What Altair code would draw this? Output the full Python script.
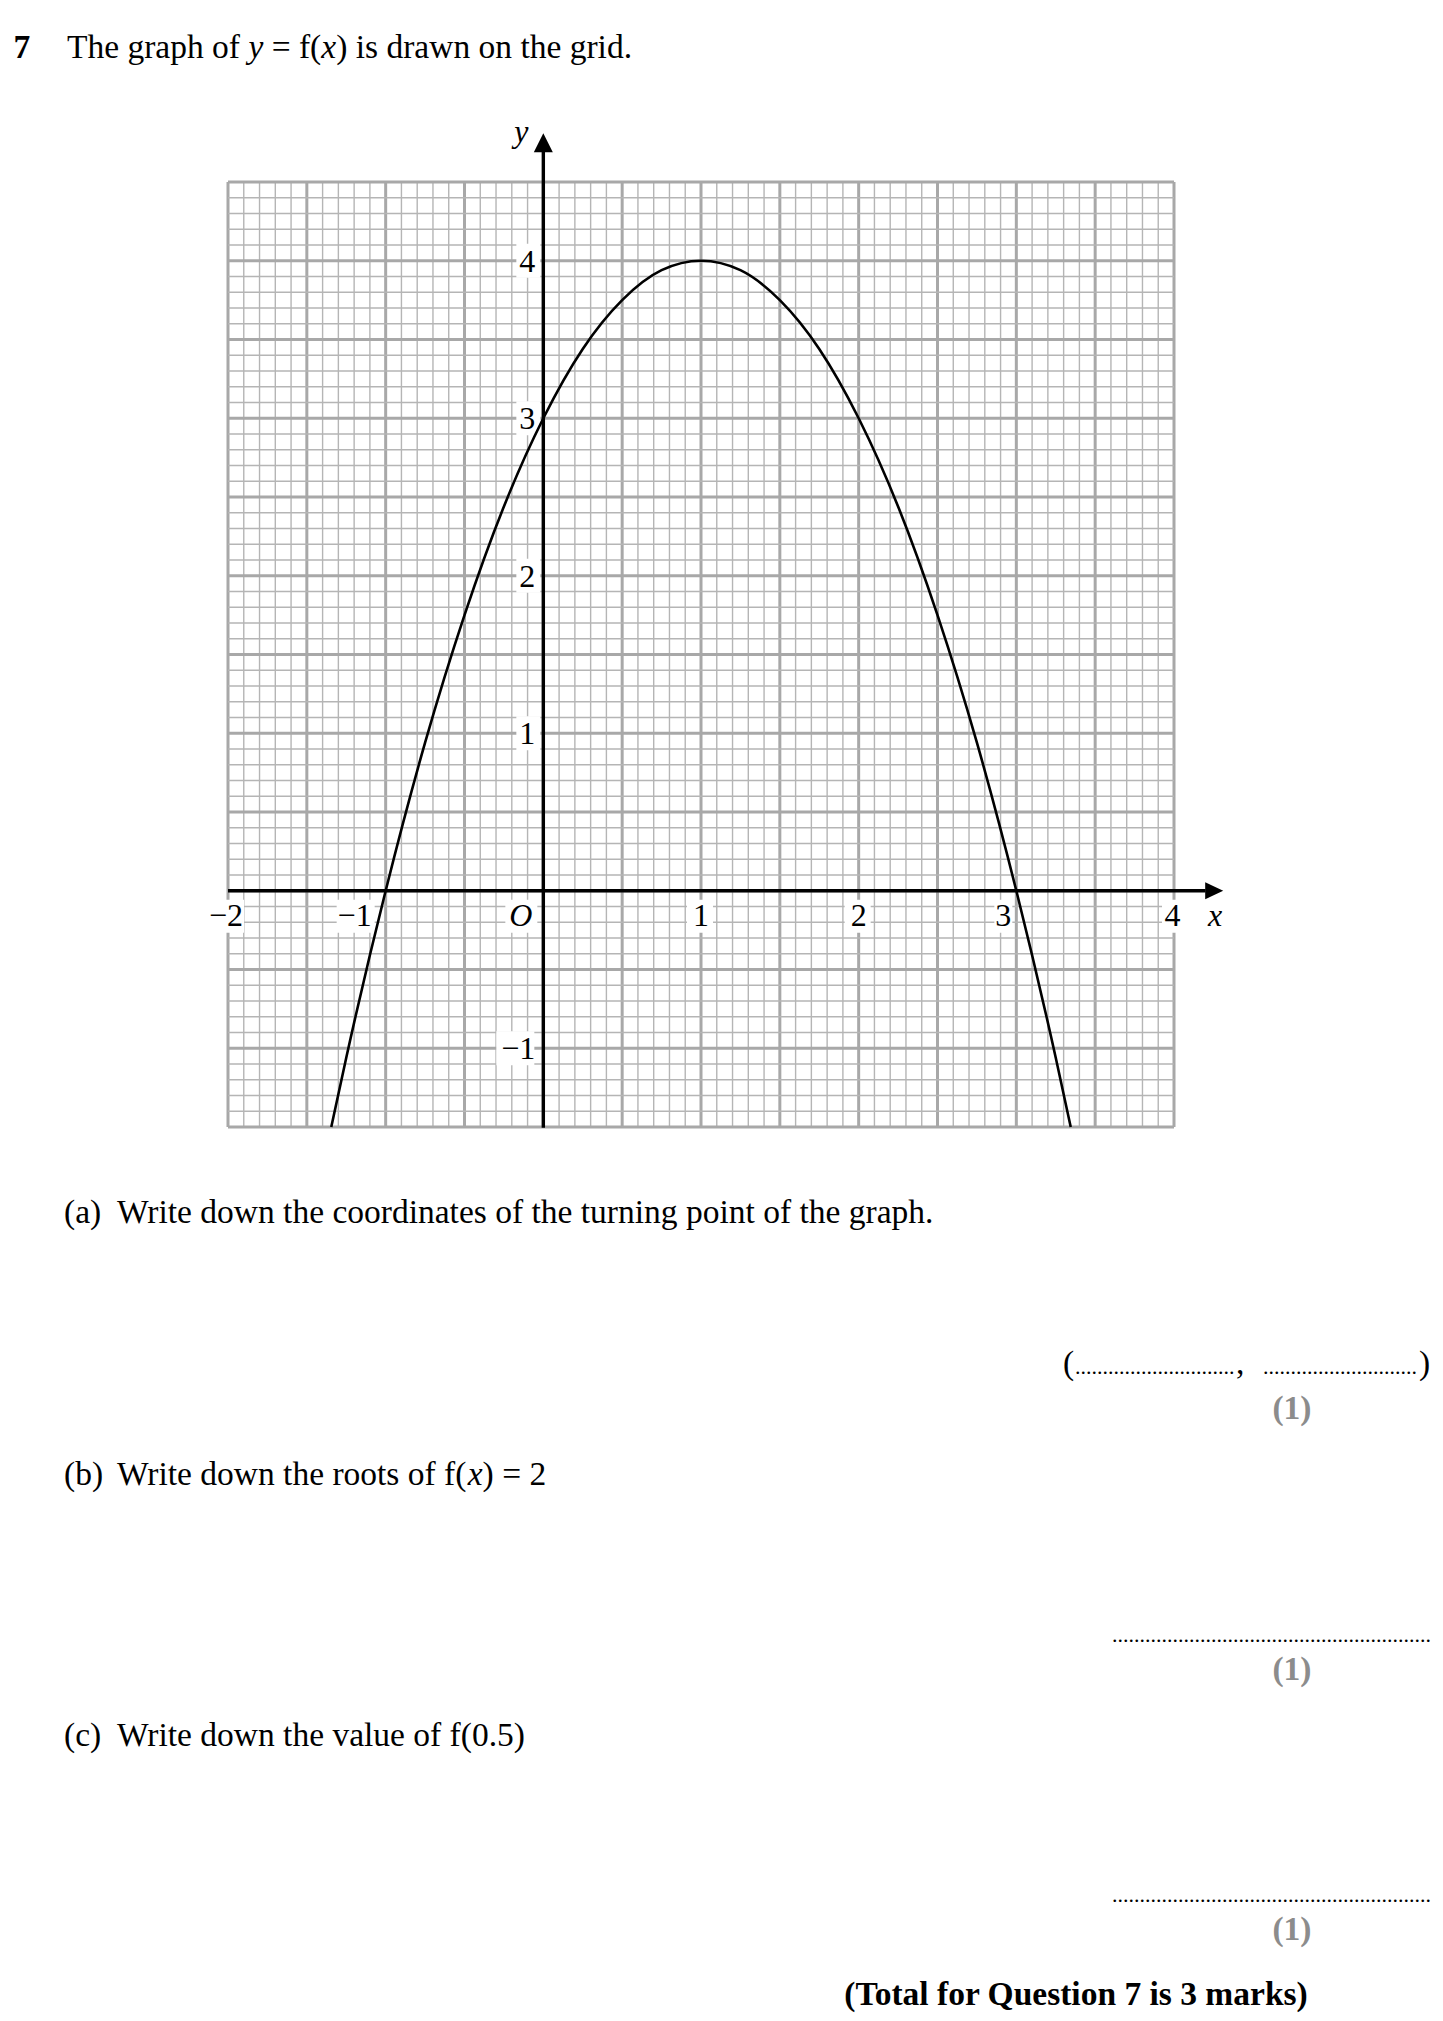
import altair as alt
import pandas as pd
import numpy as np

# ---------------- data ----------------
curve_x = [-1.345, -1.25, -1.0, -0.75, -0.5, -0.25, 0.0, 0.25, 0.5, 0.75, 1.0,
           1.25, 1.5, 1.75, 2.0, 2.25, 2.5, 2.75, 3.0, 3.25, 3.345]
curve_y = [-1.5, -1.06, 0.0, 0.94, 1.75, 2.44, 3.0, 3.44, 3.75, 3.94, 4.0,
           3.94, 3.75, 3.44, 3.0, 2.44, 1.75, 0.94, 0.0, -1.06, -1.5]

x_ticks = [-2, -1, 0, 1, 2, 3, 4]
x_tick_labels = ["−2", "−1", "O", "1", "2", "3", "4"]
y_ticks = [-1, 1, 2, 3, 4]
y_tick_labels = ["−1", "1", "2", "3", "4"]

X_MIN, X_MAX = -2, 4
Y_MIN, Y_MAX = -1.5, 4.5
FINE_STEP = 0.1
MAJOR_STEP = 0.5

# ---------------- layout (pixels) ----------------
W, H = 946, 945
UX = W / (X_MAX - X_MIN)
UY = H / (Y_MAX - Y_MIN)
OX, OY = 228, 182          # page position of plot origin
FONT = "Liberation Serif"
FS = 33.5
LFS = 32

# label alignment / offsets (x labels), and white box extents (px)
x_lab_align = ["center", "right", "right", "center", "center", "right", "center"]
x_lab_dx = [-2, -14, -11, 0, 0, -5, -1.5]
x_box = [(-21, 16), (-49, -11), (-38, -6), (-14, 12), (-14, 12), (-22, -4), (-12, 9)]
y_box = [(-47, -9), (-27, -3), (-27, -3), (-27, -3), (-27, -3)]

xs = alt.Scale(domain=[X_MIN, X_MAX], nice=False, zero=False)
ys = alt.Scale(domain=[Y_MIN, Y_MAX], nice=False, zero=False)


def X(f):
    return alt.X(f, type="quantitative", scale=xs, axis=None)


def Y(f):
    return alt.Y(f, type="quantitative", scale=ys, axis=None)


def X2(f):
    return alt.X2(f)


def Y2(f):
    return alt.Y2(f)


layers = []

# ---------------- grid ----------------
fine_x = np.round(np.arange(X_MIN, X_MAX + 1e-9, FINE_STEP), 3)
fine_y = np.round(np.arange(Y_MIN, Y_MAX + 1e-9, FINE_STEP), 3)
major_x = np.round(np.arange(X_MIN, X_MAX + 1e-9, MAJOR_STEP), 3)
major_y = np.round(np.arange(Y_MIN, Y_MAX + 1e-9, MAJOR_STEP), 3)

for vals, width, col in [(fine_x, 1.4, "#b5b5b5"), (major_x, 3, "#a8a8a8")]:
    df = pd.DataFrame({"x": vals, "y1": Y_MIN, "y2": Y_MAX})
    layers.append(alt.Chart(df).mark_rule(color=col, strokeWidth=width).encode(
        x=X("x"), y=Y("y1"), y2=Y2("y2")))
for vals, width, col in [(fine_y, 1.4, "#b5b5b5"), (major_y, 3, "#a8a8a8")]:
    df = pd.DataFrame({"y": vals, "x1": X_MIN, "x2": X_MAX})
    layers.append(alt.Chart(df).mark_rule(color=col, strokeWidth=width).encode(
        y=Y("y"), x=X("x1"), x2=X2("x2")))

# ---------------- white boxes behind labels ----------------
bx = pd.DataFrame({
    "x1": [t + b[0] / UX for t, b in zip(x_ticks, x_box)],
    "x2": [t + b[1] / UX for t, b in zip(x_ticks, x_box)],
    "y1": [-9 / UY] * len(x_ticks),
    "y2": [-42 / UY] * len(x_ticks),
})
by = pd.DataFrame({
    "x1": [b[0] / UX for b in y_box],
    "x2": [b[1] / UX for b in y_box],
    "y1": [t - 17 / UY for t in y_ticks],
    "y2": [t + 17 / UY for t in y_ticks],
})
for df in (bx, by):
    layers.append(alt.Chart(df).mark_rect(color="white").encode(
        x=X("x1"), x2=X2("x2"), y=Y("y1"), y2=Y2("y2")))

# ---------------- axes with arrows ----------------
ax = pd.DataFrame({"x1": [X_MIN], "x2": [4.2], "y": [0]})
layers.append(alt.Chart(ax).mark_rule(color="black", strokeWidth=3.4).encode(
    x=X("x1"), x2=X2("x2"), y=Y("y")))
ay = pd.DataFrame({"y1": [Y_MIN - 0.005], "y2": [4.7], "x": [0]})
layers.append(alt.Chart(ay).mark_rule(color="black", strokeWidth=3.4).encode(
    y=Y("y1"), y2=Y2("y2"), x=X("x")))

arr_x = pd.DataFrame({"x": [4.255], "y": [0]})
layers.append(alt.Chart(arr_x).mark_point(
    shape="M -1 -0.95 L 1 0 L -1 0.95 Z", size=324, filled=True, color="black",
    opacity=1, strokeWidth=0).encode(x=X("x"), y=Y("y")))
arr_y = pd.DataFrame({"x": [0], "y": [4.75]})
layers.append(alt.Chart(arr_y).mark_point(
    shape="M -1 1 L 0 -1 L 1 1 Z", size=361, filled=True, color="black",
    opacity=1, strokeWidth=0).encode(x=X("x"), y=Y("y")))

# ---------------- curve ----------------
cdf = pd.DataFrame({"x": curve_x, "y": curve_y})
layers.append(alt.Chart(cdf).mark_line(
    color="black", strokeWidth=2.6, interpolate="monotone").encode(
    x=X("x"), y=Y("y")))

# ---------------- tick labels ----------------
for t, lab, al, dx in zip(x_ticks, x_tick_labels, x_lab_align, x_lab_dx):
    df = pd.DataFrame({"x": [t], "y": [0], "t": [lab]})
    layers.append(alt.Chart(df).mark_text(
        align=al, baseline="alphabetic", dx=dx, dy=35, font=FONT, fontSize=LFS,
        fontStyle="italic" if lab == "O" else "normal", color="black").encode(
        x=X("x"), y=Y("y"), text="t:N"))
for t, lab in zip(y_ticks, y_tick_labels):
    df = pd.DataFrame({"x": [0], "y": [t], "t": [lab]})
    layers.append(alt.Chart(df).mark_text(
        align="right", baseline="alphabetic", dx=-8, dy=11, font=FONT, fontSize=LFS,
        color="black").encode(x=X("x"), y=Y("y"), text="t:N"))

# axis names
layers.append(alt.Chart(pd.DataFrame({"x": [4.26], "y": [0], "t": ["x"]})).mark_text(
    align="center", baseline="alphabetic", dy=35, font=FONT, fontSize=LFS,
    fontStyle="italic", color="black").encode(x=X("x"), y=Y("y"), text="t:N"))
layers.append(alt.Chart(pd.DataFrame({"x": [0], "y": [4.754], "t": ["y"]})).mark_text(
    align="right", baseline="alphabetic", dx=-15, font=FONT, fontSize=LFS,
    fontStyle="italic", color="black").encode(x=X("x"), y=Y("y"), text="t:N"))


# ---------------- page text ----------------
def txt(px, py, s, size=FS, weight="normal", style="normal", color="black", align="left"):
    return alt.Chart(pd.DataFrame({"t": [s]})).mark_text(
        align=align, baseline="alphabetic", font=FONT, fontSize=size,
        fontWeight=weight, fontStyle=style, color=color).encode(
        x=alt.value(px - OX), y=alt.value(py - OY), text="t:N")


GRAY = "#8c8c8c"
TB = 58
A_LINE = 1374
layers += [
    txt(13.5, TB, "7", weight="bold"),
    txt(67, TB, "The graph of"),
    txt(248.4, TB, "y", style="italic"),
    txt(271.7, TB, "= f("),
    txt(321.3, TB, "x", style="italic"),
    txt(336.2, TB, ") is drawn on the grid."),

    txt(64, 1223, "(a)"),
    txt(117, 1223, "Write down the coordinates of the turning point of the graph."),
    txt(1063, A_LINE, "("),
    txt(1075, A_LINE, "." * 29, size=22),
    txt(1236, A_LINE, ","),
    txt(1263, A_LINE, "." * 28, size=22),
    txt(1419, A_LINE, ")"),
    txt(1292, 1419, "(1)", weight="bold", color=GRAY, align="center"),

    txt(64, 1485, "(b)"),
    txt(117, 1485, "Write down the roots of f("),
    txt(467.7, 1485, "x", style="italic"),
    txt(482.6, 1485, ") = 2"),
    txt(1112, 1642, "." * 58, size=22),
    txt(1292, 1680, "(1)", weight="bold", color=GRAY, align="center"),

    txt(64, 1746, "(c)"),
    txt(117, 1746, "Write down the value of f(0.5)"),
    txt(1112, 1902, "." * 58, size=22),
    txt(1292, 1940, "(1)", weight="bold", color=GRAY, align="center"),

    txt(1076, 2005, "(Total for Question 7 is 3 marks)", weight="bold", align="center"),
]

chart = alt.layer(*layers).properties(
    width=W, height=H,
    padding={"left": OX - 8, "top": OY - 8, "right": 1427 - (OX - 8) - W,
             "bottom": 2005 - (OY - 8) - H},
    autosize=alt.AutoSizeParams(type="none"),
).configure_view(stroke=None)

chart.save("out.html", embed_options={"renderer": "svg", "actions": False})
